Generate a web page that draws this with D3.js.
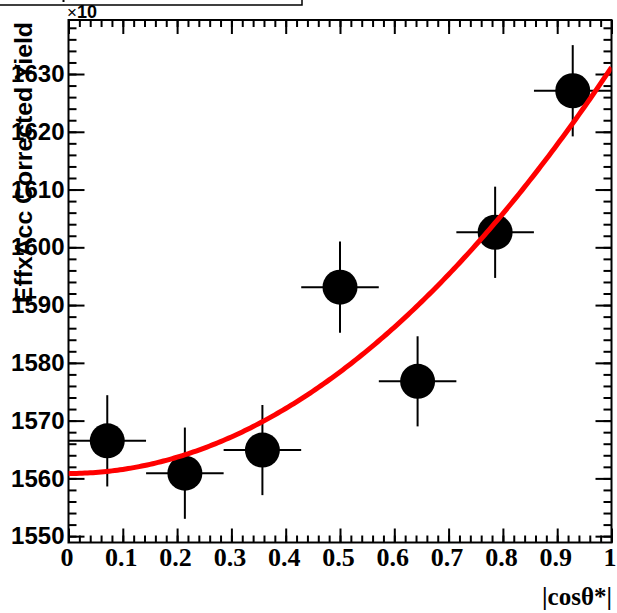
<!DOCTYPE html>
<html>
<head>
<meta charset="utf-8">
<script src="https://cdn.jsdelivr.net/npm/d3@7"></script>
<style>
  html, body { margin: 0; padding: 0; background: #fff; }
  svg { display: block; }
</style>
</head>
<body>
<svg id="chart" width="617" height="613"></svg>
<script>
// ---- data ----
const binCenters = [0.0714, 0.2143, 0.3571, 0.5, 0.6429, 0.7857, 0.9286];
const binHalfWidth = [0.0714, 0.0714, 0.0714, 0.0714, 0.0714, 0.0714, 0.0714];
const yields = [1566.5, 1560.9, 1564.9, 1593.1, 1576.8, 1602.6, 1627.1];
const yieldErrors = [7.9, 7.9, 7.8, 7.9, 7.8, 7.9, 7.9];
// fit: p0 + p2 * x^2
const fitP0 = 1560.85;
const fitP2 = 70.3;
const xTickValues = [0, 0.1, 0.2, 0.3, 0.4, 0.5, 0.6, 0.7, 0.8, 0.9, 1];
const xTickLabels = ["0", "0.1", "0.2", "0.3", "0.4", "0.5", "0.6", "0.7", "0.8", "0.9", "1"];
const yTickValues = [1550, 1560, 1570, 1580, 1590, 1600, 1610, 1620, 1630];
const yTickLabels = ["1550", "1560", "1570", "1580", "1590", "1600", "1610", "1620", "1630"];
const xTitle = "|cosθ*|";
const yTitle = "EffxAcc Corrected Yield";

// ---- layout ----
const L = 68.5, R = 611.5, T = 20, B = 542.5;
const svg = d3.select("#chart");

const x = d3.scaleLinear().domain([0, 1]).range([L, R]);
const y = d3.scaleLinear().domain([1548.9, 1639.35]).range([B, T]);

const xMinor = d3.range(0, 1.0001, 0.02).map(v => +v.toFixed(2));
const yMinor = d3.range(1550, 1639, 2);

// title box remnant at the top
svg.append("path").attr("d", "M0,5H302V0").attr("fill", "none").attr("stroke", "#000").attr("stroke-width", 1.5);
svg.append("line").attr("x1", 63.5).attr("x2", 63.5).attr("y1", 0).attr("y2", 2).attr("stroke", "#000").attr("stroke-width", 2);

// axes: bottom
const gB = svg.append("g").attr("transform", `translate(0,${B})`);
gB.call(d3.axisBottom(x).tickValues(xMinor).tickSize(-7).tickSizeOuter(0).tickFormat(""));
const gB2 = svg.append("g").attr("transform", `translate(0,${B})`);
gB2.call(d3.axisBottom(x).tickValues(xTickValues).tickSize(-14).tickSizeOuter(0).tickPadding(5)
  .tickFormat((d, i) => xTickLabels[i]));
// top
const gT = svg.append("g").attr("transform", `translate(0,${T})`);
gT.call(d3.axisTop(x).tickValues(xMinor).tickSize(-7).tickSizeOuter(0).tickFormat(""));
gT.call(g => g.append("g").call(d3.axisTop(x).tickValues(xTickValues).tickSize(-14).tickSizeOuter(0).tickFormat("")));
// left
const gL = svg.append("g").attr("transform", `translate(${L},0)`);
gL.call(d3.axisLeft(y).tickValues(yMinor).tickSize(-8).tickSizeOuter(0).tickFormat(""));
const gL2 = svg.append("g").attr("transform", `translate(${L},0)`);
gL2.call(d3.axisLeft(y).tickValues(yTickValues).tickSize(-16).tickSizeOuter(0).tickPadding(4)
  .tickFormat((d, i) => yTickLabels[i]));
// right
const gR = svg.append("g").attr("transform", `translate(${R},0)`);
gR.call(d3.axisRight(y).tickValues(yMinor).tickSize(-8).tickSizeOuter(0).tickFormat(""));
gR.call(g => g.append("g").call(d3.axisRight(y).tickValues(yTickValues).tickSize(-16).tickSizeOuter(0).tickFormat("")));

svg.selectAll(".domain").remove();
svg.selectAll(".tick line").attr("stroke", "#000").attr("stroke-width", 2);

gB2.selectAll(".tick text")
  .attr("font-family", "'Liberation Serif', 'Times New Roman', serif")
  .attr("font-weight", "bold").attr("font-size", 26).attr("fill", "#000").attr("dx", -2);
gL2.selectAll(".tick text")
  .attr("font-family", "'Liberation Sans', Arial, sans-serif")
  .attr("font-weight", "bold").attr("font-size", 24).attr("fill", "#000");

// frame
svg.append("rect").attr("x", L).attr("y", T).attr("width", R - L).attr("height", B - T)
  .attr("fill", "none").attr("stroke", "#000").attr("stroke-width", 2);

// ×10 multiplier
const mult = svg.append("text").attr("x", 67).attr("y", 18)
  .attr("font-family", "'Liberation Sans', Arial, sans-serif").attr("font-size", 17).attr("fill", "#000");
mult.append("tspan").text("×");
mult.append("tspan").attr("font-weight", "bold").attr("font-size", 18).text("10");

// axis titles
svg.append("text").attr("x", 612).attr("y", 605).attr("text-anchor", "end")
  .attr("font-family", "'Liberation Serif', 'Times New Roman', serif")
  .attr("font-weight", "bold").attr("font-size", 25).attr("fill", "#000").text(xTitle);

svg.append("text").attr("transform", "translate(31.5,22) rotate(-90)").attr("text-anchor", "end")
  .attr("font-family", "'Liberation Sans', Arial, sans-serif")
  .attr("font-weight", "bold").attr("font-size", 24.8).attr("fill", "#000").text(yTitle);

// data points with error bars
const pts = binCenters.map((c, i) => ({ x: c, hw: binHalfWidth[i], y: yields[i], e: yieldErrors[i] }));
const gP = svg.append("g");
gP.selectAll("line.h").data(pts).join("line").attr("class", "h")
  .attr("x1", d => x(d.x - d.hw)).attr("x2", d => x(d.x + d.hw))
  .attr("y1", d => y(d.y)).attr("y2", d => y(d.y))
  .attr("stroke", "#000").attr("stroke-width", 2);
gP.selectAll("line.v").data(pts).join("line").attr("class", "v")
  .attr("x1", d => x(d.x)).attr("x2", d => x(d.x))
  .attr("y1", d => y(d.y - d.e)).attr("y2", d => y(d.y + d.e))
  .attr("stroke", "#000").attr("stroke-width", 2);
gP.selectAll("circle").data(pts).join("circle")
  .attr("cx", d => x(d.x)).attr("cy", d => y(d.y)).attr("r", 17.5).attr("fill", "#000");

// fit curve
const fitXs = d3.range(0, 1.0001, 0.005);
const fitLine = d3.line().x(d => x(d)).y(d => y(fitP0 + fitP2 * d * d));
svg.append("clipPath").attr("id", "clip").append("rect")
  .attr("x", L).attr("y", T).attr("width", R - L).attr("height", B - T);
svg.append("path").datum(fitXs).attr("d", fitLine)
  .attr("fill", "none").attr("stroke", "#ff0000").attr("stroke-width", 5)
  .attr("clip-path", "url(#clip)");
</script>
</body>
</html>
